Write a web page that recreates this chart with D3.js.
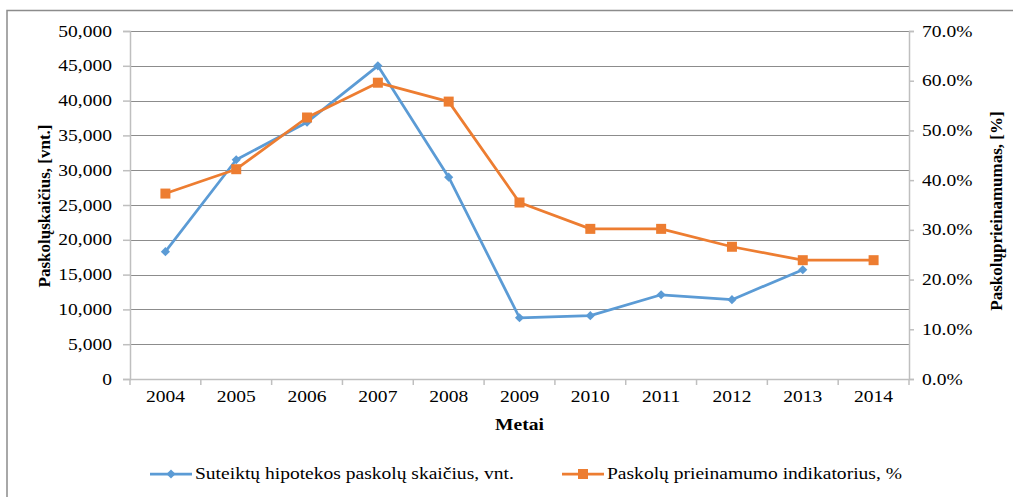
<!DOCTYPE html>
<html>
<head>
<meta charset="utf-8">
<script src="https://cdn.jsdelivr.net/npm/d3@7"></script>
<style>
  body { margin: 0; background: #fff; }
  .grid line { stroke: #8c8c8c; stroke-width: 1; }
  .axis path, .axis line { stroke: #bfbfbf; stroke-width: 1.5; }
</style>
</head>
<body>
<svg id="chart" width="1021" height="497"></svg>
<script>
// Metai
const years = ['2004', '2005', '2006', '2007', '2008', '2009', '2010', '2011', '2012', '2013', '2014'];
// Suteiktų hipotekos paskolų skaičius, vnt. (no value for 2014)
const loanCount = [18300, 31500, 36900, 45000, 29000, 8800, 9100, 12100, 11400, 15700, null];
// Paskolų prieinamumo indikatorius, %
const affordability = [37.3, 42.2, 52.6, 59.6, 55.8, 35.5, 30.2, 30.2, 26.6, 23.9, 23.9];

const leftTicks = [0, 5000, 10000, 15000, 20000, 25000, 30000, 35000, 40000, 45000, 50000];
const rightTicks = [0, 10, 20, 30, 40, 50, 60, 70];

const seriesNames = ['Suteiktų hipotekos paskolų skaičius, vnt.', 'Paskolų prieinamumo indikatorius, %'];
const colors = ['#5b9bd5', '#ed7d31'];

const plot = {left: 130, right: 909, top: 31, bottom: 379};
const FONT = '"Liberation Serif", "Times New Roman", serif';
const STRETCH = 1.22; // the original picture is squeezed wider than plain Times

const svg = d3.select('#chart');

// chart frame (top and left edges are what shows)
svg.append('path')
  .attr('d', 'M7,497 V10.5 H1013')
  .attr('fill', 'none')
  .attr('stroke', '#8c8c8c')
  .attr('stroke-width', 1.5);

const x = d3.scaleBand().domain(years).range([plot.left, plot.right]);
const yL = d3.scaleLinear().domain([0, 50000]).range([plot.bottom, plot.top]);
const yR = d3.scaleLinear().domain([0, 70]).range([plot.bottom, plot.top]);

// gridlines
svg.append('g')
  .attr('class', 'grid')
  .selectAll('line')
  .data(leftTicks.slice(1))
  .join('line')
  .attr('x1', plot.left)
  .attr('x2', plot.right)
  .attr('y1', (d) => Math.round(yL(d)) + 0.5)
  .attr('y2', (d) => Math.round(yL(d)) + 0.5);

const fmt = d3.format(',');

// left axis
svg.append('g')
  .attr('class', 'axis')
  .attr('transform', `translate(${plot.left},0)`)
  .call(d3.axisLeft(yL).tickValues(leftTicks).tickFormat(fmt).tickSizeOuter(0).tickSize(7).tickPadding(11));

// right axis
svg.append('g')
  .attr('class', 'axis')
  .attr('transform', `translate(${plot.right},0)`)
  .call(d3.axisRight(yR).tickValues(rightTicks).tickFormat((d) => d.toFixed(1) + '%').tickSizeOuter(0).tickSize(5).tickPadding(8));

// bottom axis: labels centred in bands, ticks between bands
const axB = svg.append('g')
  .attr('class', 'axis')
  .attr('transform', `translate(0,${plot.bottom})`)
  .call(d3.axisBottom(x).tickSize(0).tickPadding(12));
axB.select('.domain').attr('d', `M${plot.left},0.5H${plot.right}`);
axB.selectAll('.between')
  .data(years.concat(['end']))
  .join('line')
  .attr('class', 'between')
  .attr('x1', (d, i) => plot.left + i * x.bandwidth())
  .attr('x2', (d, i) => plot.left + i * x.bandwidth())
  .attr('y1', 0)
  .attr('y2', 6);

svg.selectAll('.axis').attr('font-family', null).attr('font-size', null);

// axis titles
svg.append('text')
  .attr('class', 'title')
  .attr('x', (plot.left + plot.right) / 2)
  .attr('y', 430)
  .attr('text-anchor', 'middle')
  .text('Metai');

svg.append('text')
  .attr('class', 'title vertical')
  .attr('transform', 'translate(50,206) rotate(-90)')
  .attr('text-anchor', 'middle')
  .text('Paskolųskaičius, [vnt.]');

svg.append('text')
  .attr('class', 'title vertical')
  .attr('transform', 'translate(1002,211) rotate(-90)')
  .attr('text-anchor', 'middle')
  .text('Paskolųprieinamumas, [%]');

const cx = (i) => x(years[i]) + x.bandwidth() / 2;

// count series (left axis)
const blueData = loanCount.map((v, i) => ({i, v})).filter((d) => d.v !== null);
svg.append('path')
  .datum(blueData)
  .attr('fill', 'none')
  .attr('stroke', colors[0])
  .attr('stroke-width', 2.75)
  .attr('stroke-linejoin', 'round')
  .attr('d', d3.line().x((d) => cx(d.i)).y((d) => yL(d.v)));

svg.append('g')
  .selectAll('path')
  .data(blueData)
  .join('path')
  .attr('transform', (d) => `translate(${cx(d.i)},${yL(d.v)}) rotate(45)`)
  .attr('d', d3.symbol().type(d3.symbolSquare).size(42))
  .attr('fill', colors[0]);

// affordability series (right axis)
const orangeData = affordability.map((v, i) => ({i, v}));
svg.append('path')
  .datum(orangeData)
  .attr('fill', 'none')
  .attr('stroke', colors[1])
  .attr('stroke-width', 2.75)
  .attr('stroke-linejoin', 'round')
  .attr('d', d3.line().x((d) => cx(d.i)).y((d) => yR(d.v)));

svg.append('g')
  .selectAll('rect')
  .data(orangeData)
  .join('rect')
  .attr('x', (d) => cx(d.i) - 5)
  .attr('y', (d) => yR(d.v) - 5)
  .attr('width', 10)
  .attr('height', 10)
  .attr('fill', colors[1]);

// legend
const legendX = [150, 562];
const legendY = 474;
const lg = svg.append('g')
  .selectAll('g')
  .data(seriesNames)
  .join('g')
  .attr('transform', (d, i) => `translate(${legendX[i]},${legendY})`);

lg.append('line')
  .attr('x1', 0)
  .attr('x2', 42)
  .attr('stroke', (d, i) => colors[i])
  .attr('stroke-width', 2.75);

lg.filter((d, i) => i === 0).append('path')
  .attr('transform', 'translate(21,0) rotate(45)')
  .attr('d', d3.symbol().type(d3.symbolSquare).size(42))
  .attr('fill', colors[0]);

lg.filter((d, i) => i === 1).append('rect')
  .attr('x', 16)
  .attr('y', -5)
  .attr('width', 10)
  .attr('height', 10)
  .attr('fill', colors[1]);

lg.append('text')
  .attr('x', 45)
  .attr('dy', '0.32em')
  .text((d) => d);

// one font for every label; flat text is stretched sideways like the original
svg.selectAll('text')
  .style('font-family', FONT)
  .style('font-size', '16px')
  .style('fill', '#000');
svg.selectAll('text.title').style('font-weight', 'bold');
svg.selectAll('text.vertical').style('font-size', '17px');
svg.selectAll('text:not(.vertical)').each(function () {
  const len = this.getComputedTextLength();
  d3.select(this)
    .attr('textLength', len * STRETCH)
    .attr('lengthAdjust', 'spacingAndGlyphs');
});
</script>
</body>
</html>
